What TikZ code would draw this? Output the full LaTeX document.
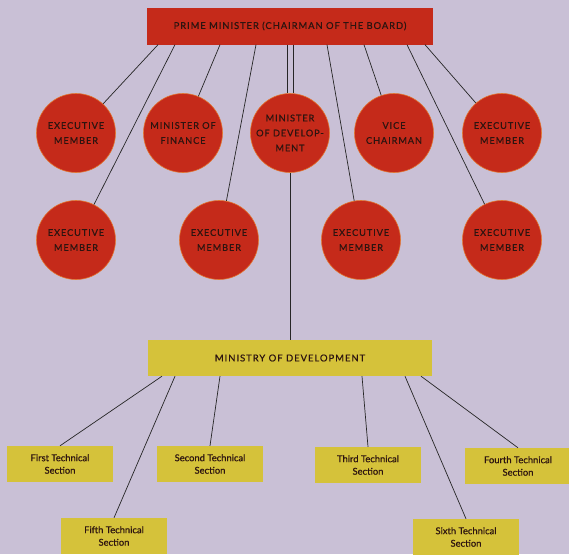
\documentclass[tikz,border=0pt]{standalone}
\usepackage{fontspec}
\setmainfont{Lato}[FakeBold=0.5]
\newfontfamily\spacedcaps[LetterSpace=10,FakeBold=0.6]{Lato}
\newfontfamily\sectfont[FakeBold=0.6]{Lato}
\usetikzlibrary{positioning}

\definecolor{paper}{RGB}{201,192,214}
\definecolor{boardred}{RGB}{197,42,26}
\definecolor{rimorange}{RGB}{226,118,48}
\definecolor{mustard}{RGB}{213,194,58}
\definecolor{inkdark}{RGB}{45,20,16}

\begin{document}
\begin{tikzpicture}[
    x=1pt, y=-1pt,
    every node/.style={align=center, inner sep=0pt},
    board/.style={fill=boardred, text=inkdark, minimum width=286pt, minimum height=37pt,
        font=\spacedcaps\fontsize{9.4}{10}\selectfont},
    member/.style={circle, fill=boardred, draw=rimorange, line width=0.6pt, minimum size=79pt,
        text=inkdark, font=\spacedcaps\fontsize{9.2}{15}\selectfont},
    ministry/.style={fill=mustard, text=inkdark, minimum width=284pt, minimum height=36pt,
        font=\spacedcaps\fontsize{9.5}{10}\selectfont},
    section/.style={fill=mustard, text=inkdark, minimum width=106pt, minimum height=36pt,
        font=\sectfont\fontsize{9.4}{12.5}\selectfont},
    link/.style={draw=black!85, line width=0.7pt}
]

% Hintergrund
\fill[paper] (0,0) rectangle (569,554);
\useasboundingbox (0,0) rectangle (569,554);

% Vorstand
\node[board] (pm) at (290,26) {PRIME MINISTER (CHAIRMAN OF THE BOARD)};

% obere Reihe
\node[member] (e1) at (76,133)  {EXECUTIVE\\MEMBER};
\node[member] (fin) at (183,133) {MINISTER OF\\FINANCE};
\node[member] (md) at (290,133)  {MINISTER\\OF DEVELOP-\\MENT};
\node[member] (vc) at (394,133)  {VICE\\CHAIRMAN};
\node[member] (e2) at (502,133)  {EXECUTIVE\\MEMBER};

% untere Reihe
\node[member] (e3) at (76,240)  {EXECUTIVE\\MEMBER};
\node[member] (e4) at (219,240) {EXECUTIVE\\MEMBER};
\node[member] (e5) at (361,240) {EXECUTIVE\\MEMBER};
\node[member] (e6) at (502,240) {EXECUTIVE\\MEMBER};

% Ministerium und Abteilungen
\node[ministry] (mod) at (290,358) {MINISTRY OF DEVELOPMENT};
\node[section] (s1) at (60,464)  {First Technical\\Section};
\node[section] (s2) at (210,464) {Second Technical\\Section};
\node[section] (s3) at (368,465) {Third Technical\\Section};
\node[section] (s4) at (518,466) {Fourth Technical\\Section};
\node[section] (s5) at (114,536) {Fifth Technical\\Section};
\node[section] (s6) at (466,537) {Sixth Technical\\Section};

% Verbindungen vom Vorstand
\draw[link] ([xshift=-132pt]pm.south) -- (e1);
\draw[link] ([xshift=-115pt]pm.south) -- (e3);
\draw[link] ([xshift=-70pt]pm.south) -- (fin);
\draw[link] ([xshift=-34pt]pm.south) -- (e4);
\draw[link] ([xshift=-3pt]pm.south) -- ([xshift=-3pt]md.north);
\draw[link] ([xshift=3pt]pm.south) -- ([xshift=3pt]md.north);
\draw[link] ([xshift=37pt]pm.south) -- (e5);
\draw[link] ([xshift=74pt]pm.south) -- (vc);
\draw[link] ([xshift=117pt]pm.south) -- (e6);
\draw[link] ([xshift=135pt]pm.south) -- (e2);

% Minister zum Ministerium
\draw[link] (md.south) -- (mod.north);

% Ministerium zu den Abteilungen
\draw[link] ([xshift=-128pt]mod.south) -- (s1.north);
\draw[link] ([xshift=-115pt]mod.south) -- (s5.north);
\draw[link] ([xshift=-70pt]mod.south) -- (s2.north);
\draw[link] ([xshift=72pt]mod.south) -- (s3.north);
\draw[link] ([xshift=115pt]mod.south) -- (s6.north);
\draw[link] ([xshift=131pt]mod.south) -- (s4.north);

\end{tikzpicture}
\end{document}
